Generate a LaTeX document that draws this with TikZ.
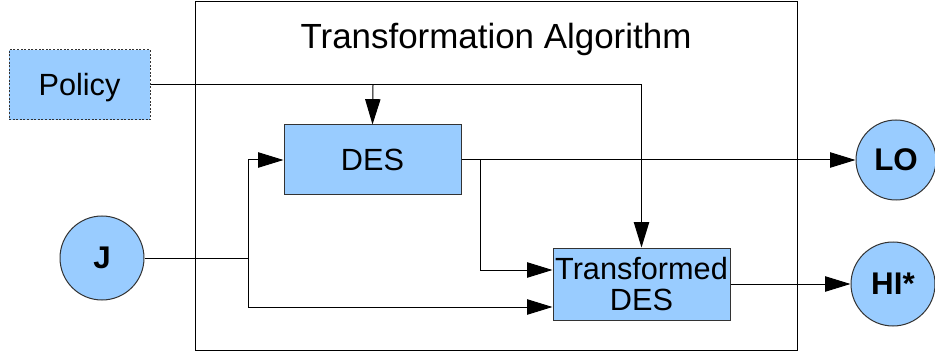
\documentclass[tikz,border=0pt]{standalone}
\usepackage{fontspec}
\setmainfont{Liberation Sans}
\usetikzlibrary{arrows.meta,calc}
\definecolor{boxblue}{HTML}{99CCFF}
\definecolor{edgegray}{HTML}{333333}
\begin{document}
\begin{tikzpicture}[x=0.75pt,y=-0.75pt,
  txt/.style={font=\fontsize{23}{26}\selectfont},
  box/.style={txt, draw=edgegray, fill=boxblue, line width=0.75pt, inner sep=0pt, align=center},
  circ/.style={circle, draw=edgegray, fill=boxblue, line width=0.75pt, inner sep=0pt, font=\fontsize{23.5}{26}\selectfont\bfseries},
  conn/.style={line width=0.75pt, black},
  arr/.style={conn, -{Triangle[length=19pt,width=11.5pt]}}
]
\useasboundingbox (0,0) rectangle (935,356);
\draw[conn] (195,2) rectangle (797,350);
\node[font=\fontsize{26.2}{30}\selectfont] (title) at (496,39) {Transformation Algorithm};

\node[box, dash pattern=on 1.5pt off 1.2pt, minimum width=105.75pt, minimum height=52.5pt, text height=16.5pt, text depth=0pt] (policy) at (79.5,85) {Policy};
\node[box, minimum width=132.75pt, minimum height=52.5pt] (des) at (372.5,160) {DES};
\node[box, minimum width=132.75pt, minimum height=54pt] (tdes) at (641.5,284) {Transformed\\[-3pt]DES};
\node[circ, minimum size=63pt] (j) at (102,258) {J};
\node[circ, minimum size=60pt] (lo) at (896,160) {LO};
\node[circ, minimum size=63pt] (hi) at (893,284) {HI*};

\coordinate (pa) at (373,85);
\coordinate (pb) at (641.5,85);
\draw[conn] (policy.east) -- (pb);
\draw[arr] (pa) -- (des.north);
\draw[arr] (pb) -- (tdes.north);

\coordinate (jx) at (248,258);
\draw[conn] (j.east) -- (jx);
\draw[arr] (jx) |- (des.west);
\draw[arr] (jx) |- ($(tdes.west)+(0,23)$);

\coordinate (dx) at (480,160);
\draw[arr] (des.east) -- (lo.west);
\draw[arr] (dx) |- ($(tdes.west)+(0,-14)$);
\draw[arr] (tdes.east) -- (hi.west);
\end{tikzpicture}
\end{document}
